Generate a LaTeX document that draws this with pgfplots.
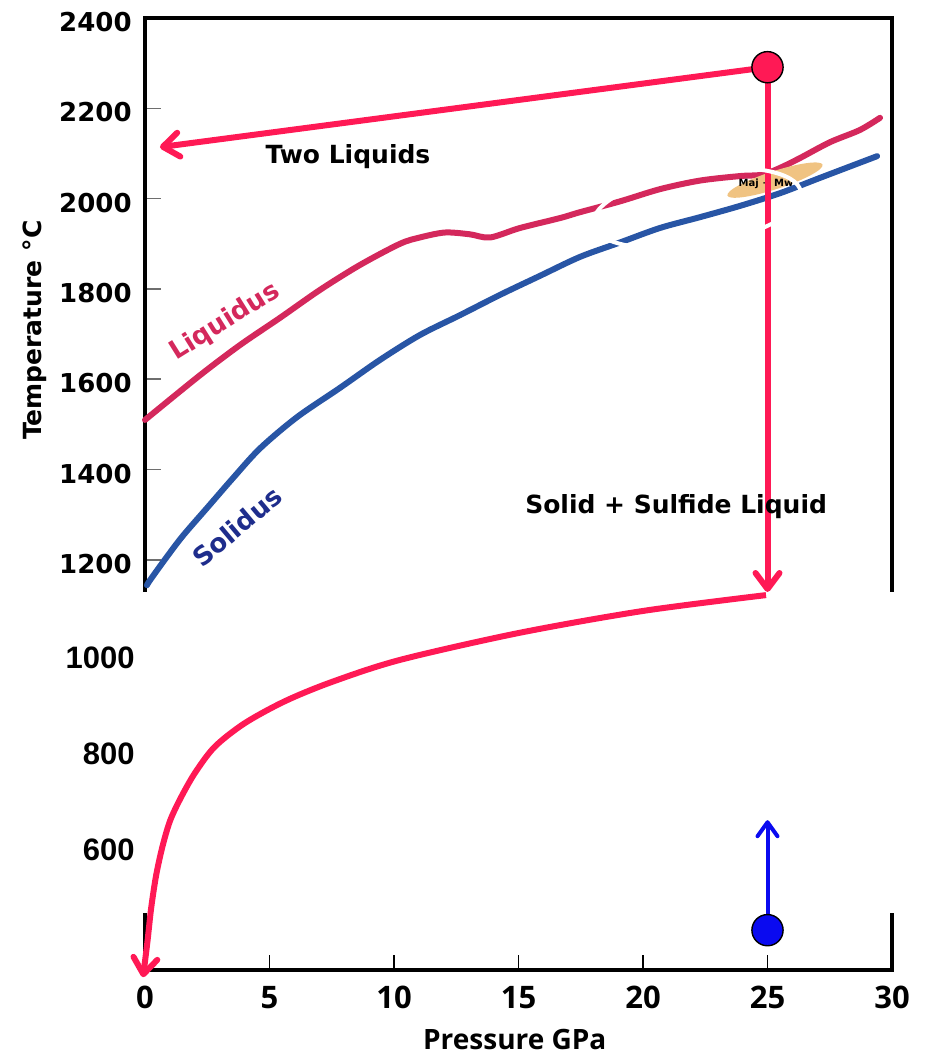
\documentclass[border=0pt]{standalone}
\usepackage{fontspec}
\setmainfont{DejaVu Sans}
\newfontfamily\osans{Open Sans}
\newfontfamily\lsans{Liberation Sans}
\usepackage{pgfplots}
\pgfplotsset{compat=1.18}
\usetikzlibrary{arrows.meta,shapes.geometric}

\definecolor{liqcol}{RGB}{212,40,92}
\definecolor{solcol}{RGB}{40,85,165}
\definecolor{sollab}{RGB}{30,45,140}
\definecolor{redarr}{RGB}{255,25,85}
\definecolor{bluearr}{RGB}{10,10,240}
\definecolor{blobcol}{RGB}{240,195,130}
\definecolor{tickgray}{RGB}{110,110,110}

\begin{document}
\begin{tikzpicture}
\path[use as bounding box] (0,0) rectangle (463pt,527.5pt);

% upper panel: phase diagram
\begin{axis}[
    at={(72.5pt,231.5pt)}, anchor=south west,
    scale only axis, width=373.5pt, height=287pt,
    xmin=0, xmax=30, ymin=1129, ymax=2400,
    axis line style={draw=none},
    xtick=\empty,
    ytick={1200,1400,...,2400},
    ytick pos=left, tick align=inside,
    major tick length=8pt,
    ytick style={tickgray, line width=0.8pt},
    /pgf/number format/assume math mode=true,
    /pgf/number format/1000 sep={},
    yticklabel style={font=\fontsize{13}{13}\selectfont\bfseries,
        anchor=east, inner sep=0pt, xshift=-6.5pt, yshift=-2pt},
    ylabel={Temperature °C},
    ylabel style={at={(axis description cs:-0.147,0.456)}, anchor=center,
        font=\fontsize{12.5}{12.5}\selectfont\bfseries},
    clip=false,
]
\draw[line width=2pt] (rel axis cs:0,0) -- (rel axis cs:0,1) -- (rel axis cs:1,1) -- (rel axis cs:1,0);

% liquidus
\addplot[liqcol, line width=3pt, smooth, line cap=round] coordinates {
    (0,1510) (2.21,1609) (3.82,1676) (5.42,1736) (7.03,1798) (8.63,1853)
    (10.24,1900) (11.04,1914) (12.05,1925) (13.05,1921) (13.86,1914)
    (15.06,1935) (16.67,1957) (17.47,1970) (19.08,1994) (20.68,2021)
    (22.29,2040) (23.90,2050) (24.78,2053) (25.5,2068) (26.31,2090)
    (27.51,2125) (28.71,2152) (29.52,2179)};
% solidus
\addplot[solcol, line width=3pt, smooth, line cap=round] coordinates {
    (0.08,1144) (0.2,1155) (0.88,1207) (1.53,1254) (2.49,1315) (3.53,1381)
    (4.62,1447) (6.10,1516) (7.83,1581) (9.44,1643) (11.04,1698)
    (12.65,1742) (14.26,1787) (15.86,1829) (17.47,1871) (19.08,1903)
    (20.68,1935) (22.29,1959) (23.90,1984) (25.50,2012) (27.11,2046)
    (29.40,2094)};

\node[ellipse, fill=blobcol, minimum width=50pt, minimum height=9pt,
    inner sep=0pt, rotate=18] at (axis cs:25.3,2041) {};
\node[font=\fontsize{5}{5}\selectfont\bfseries] at (axis cs:24.94,2032) {Maj + Mw};

% path arrows
\addplot[redarr, line width=3pt, -{Straight Barb[length=8pt,width=12pt,round]}]
    coordinates {(25,2291) (0.6,2114)};
\addplot[redarr, line width=3pt, -{Straight Barb[length=8pt,width=12pt,round]}]
    coordinates {(25,2291) (25,1129)};

\node[ellipse, draw=white, line width=2pt, minimum width=105pt,
    minimum height=37pt, inner sep=0pt, rotate=9] at (axis cs:22.17,1979) {};

\addplot[only marks, mark=*, mark size=7.8pt,
    mark options={fill=redarr, draw=black, line width=0.7pt}]
    coordinates {(25,2291)};

\node[font=\fontsize{12.5}{12.5}\selectfont\bfseries] at (axis cs:8.15,2092) {Two Liquids};
\node[font=\fontsize{12.5}{12.5}\selectfont\bfseries] at (axis cs:21.33,1319) {Solid + Sulfide Liquid};
\node[liqcol, rotate=32, font=\fontsize{13}{13}\selectfont\bfseries] at (axis cs:3.21,1727) {Liquidus};
\node[sollab, rotate=40, font=\fontsize{13}{13}\selectfont\bfseries] at (axis cs:3.69,1273) {Solidus};
\end{axis}

% lower panel: extended temperature scale
\begin{axis}[
    at={(72.5pt,42.5pt)}, anchor=south west,
    scale only axis, width=373.5pt, height=189pt,
    xmin=0, xmax=30, ymin=350, ymax=1137.5,
    axis line style={draw=none},
    xtick={0,5,...,30}, xtick pos=left,
    ytick={600,800,1000}, ytick pos=left,
    tick align=inside, major tick length=7.5pt,
    xtick style={black, line width=0.6pt},
    ytick style={draw=none},
    /pgf/number format/assume math mode=true,
    /pgf/number format/1000 sep={},
    yticklabel style={font=\lsans\fontsize{15.5}{15.5}\selectfont\bfseries,
        anchor=east, inner sep=0pt, xshift=-5pt},
    xticklabel style={font=\osans\fontsize{15.5}{15.5}\selectfont\bfseries,
        anchor=north, inner sep=0pt, yshift=-8pt},
    xlabel={Pressure GPa},
    xlabel style={at={(axis description cs:0.495,-0.185)}, anchor=center,
        font=\osans\fontsize{14}{14}\selectfont\bfseries},
    clip=false,
]
\draw[line width=2pt] (axis cs:0,469) -- (axis cs:0,350) -- (axis cs:30,350) -- (axis cs:30,469);

\addplot[redarr, line width=3pt, smooth, -{Straight Barb[length=8pt,width=12pt,round]}]
    coordinates {(24.94,1131) (20,1098) (15,1052) (10.24,996) (7.5,950)
    (5.62,910) (4,864) (2.8,815) (2,760) (1.41,706) (1.0,660) (0.7,607)
    (0.45,548) (0.25,480) (0.1,410) (-0.08,335)};

\addplot[bluearr, line width=2pt, -{Straight Barb[length=7pt,width=10pt,round]}]
    coordinates {(25,433) (25,662)};
\addplot[only marks, mark=*, mark size=7.8pt,
    mark options={fill=bluearr, draw=black, line width=0.7pt}]
    coordinates {(25,433)};
\end{axis}
\end{tikzpicture}
\end{document}
